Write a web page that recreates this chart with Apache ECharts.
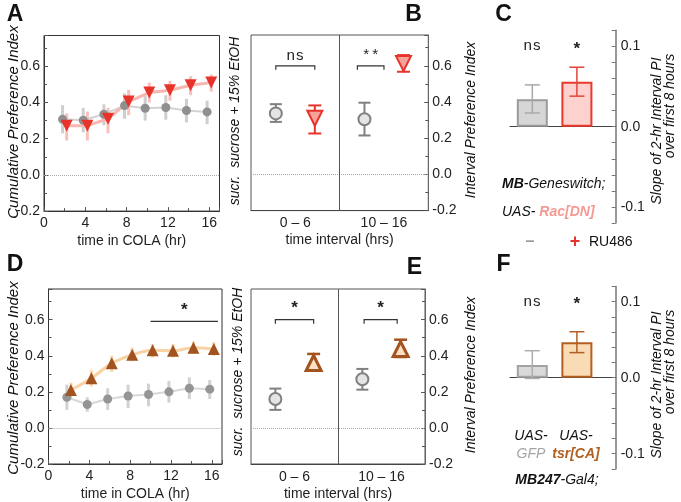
<!DOCTYPE html>
<html><head><meta charset="utf-8">
<script src="https://cdn.jsdelivr.net/npm/echarts@6/dist/echarts.min.js"></script>
<style>html,body{margin:0;padding:0;background:#fff}#c{width:681px;height:502px}</style>
</head><body><div id="c"></div>
<script>
// ---------- data ----------
const hours = [2, 4, 6, 8, 10, 12, 14, 16];
const hourTicks = [0, 4, 8, 12, 16];
const cumTicks = [-0.2, 0, 0.2, 0.4, 0.6];
const slopeTicks = [-0.1, 0, 0.1];
const intervalCats = ['0 – 6', '10 – 16'];

// Panel A (MB-Geneswitch > Rac[DN])
const aGreyMean = [0.307, 0.302, 0.335, 0.383, 0.368, 0.372, 0.356, 0.348];
const aGreyLo   = [0.230, 0.235, 0.275, 0.310, 0.300, 0.305, 0.290, 0.280];
const aGreyHi   = [0.385, 0.370, 0.390, 0.450, 0.435, 0.440, 0.420, 0.410];
const aRedMean  = [0.272, 0.272, 0.310, 0.405, 0.455, 0.468, 0.495, 0.510];
const aRedLo    = [0.190, 0.190, 0.230, 0.330, 0.400, 0.410, 0.440, 0.460];
const aRedHi    = [0.340, 0.350, 0.370, 0.470, 0.510, 0.520, 0.545, 0.555];

// Panel B
const bGreyMean = [0.337, 0.305];
const bGreyLo   = [0.290, 0.215];
const bGreyHi   = [0.388, 0.396];
const bRedMean  = [0.310, 0.613];
const bRedLo    = [0.226, 0.567];
const bRedHi    = [0.381, 0.659];
const bSigLabels = ['ns', '**'];
const bSigSpans  = [[0.28, 0.72], [1.2, 1.5]];
const sigLevel = 0.6;

// Panel C
const cMean = [0.034, 0.056];
const cLo   = [0.017, 0.038];
const cHi   = [0.052, 0.074];
const cSig  = ['ns', '*'];

// Panel D (MB247-Gal4 > tsr[CA])
const dGreyMean = [0.170, 0.130, 0.160, 0.177, 0.185, 0.200, 0.220, 0.215];
const dGreyLo   = [0.100, 0.090, 0.100, 0.110, 0.120, 0.140, 0.160, 0.160];
const dGreyHi   = [0.240, 0.170, 0.220, 0.240, 0.245, 0.260, 0.280, 0.265];
const dOrMean   = [0.210, 0.275, 0.358, 0.405, 0.430, 0.428, 0.445, 0.437];
const dOrLo     = [0.170, 0.230, 0.310, 0.370, 0.390, 0.390, 0.410, 0.400];
const dOrHi     = [0.250, 0.320, 0.400, 0.445, 0.465, 0.465, 0.480, 0.475];
const dSigSpan  = [10, 16.6];
const dSigLevel = 0.59;

// Panel E
const eGreyMean = [0.160, 0.270];
const eGreyLo   = [0.100, 0.212];
const eGreyHi   = [0.218, 0.327];
const eOrMean   = [0.360, 0.437];
const eOrLo     = [0.320, 0.393];
const eOrHi     = [0.410, 0.489];
const eSigLabels = ['*', '*'];
const eSigSpans  = [[0.28, 0.72], [1.3, 1.68]];

// Panel F
const fMean = [0.0167, 0.0466];
const fLo   = [-0.001, 0.033];
const fHi   = [0.0355, 0.0605];
const fSig  = ['ns', '*'];

// ---------- style ----------
const SANS = '"Liberation Sans", Arial, sans-serif';
const MONO = '"Liberation Mono", "Courier New", monospace';
const DODGE_T = 0.2;   // hours
const DODGE_G = 0.22;  // group offset
const groupCenters = [0.5, 1.5];
const barCenters = [0.5, 1.5];
const GREY = '#8f8f8f', RED = '#e8332b', BROWN = '#a3531f';

const near = (v, arr) => arr.some(t => Math.abs(t - v) < 1e-6);
const fmt1 = v => (Math.abs(v) < 1e-9 ? 0 : v).toFixed(1);

function cumYAxis(gi, right) {
  return {
    gridIndex: gi, type: 'value', min: -0.2, max: 0.77, interval: 0.2,
    position: right ? 'right' : 'left',
    axisLine: { show: true, onZero: false, lineStyle: { color: right ? '#666' : '#333' } },
    axisTick: { show: true, inside: true, length: 4, lineStyle: { color: '#555' } },
    minorTick: { show: true, splitNumber: 2, length: 3, lineStyle: { color: '#555' } },
    splitLine: { show: false },
    axisLabel: { color: '#222', fontSize: 14, fontFamily: SANS, margin: 4,
      formatter: v => near(v, cumTicks) ? fmt1(v) : '' }
  };
}
function hourXAxis(gi) {
  return {
    gridIndex: gi, type: 'value', min: 0, max: 17, interval: 4,
    axisLine: { show: true, onZero: false, lineStyle: { color: '#333' } },
    axisTick: { show: true, inside: true, length: 4, lineStyle: { color: '#555' } },
    minorTick: { show: true, splitNumber: 2, length: 3, lineStyle: { color: '#555' } },
    splitLine: { show: false },
    axisLabel: { color: '#222', fontSize: 14, fontFamily: SANS, margin: 5,
      formatter: v => near(v, hourTicks) ? String(v) : '' },
    name: 'time in COLA (hr)', nameLocation: 'middle', nameGap: 23,
    nameTextStyle: { color: '#222', fontSize: 14, fontFamily: SANS }
  };
}
function intervalXAxis(gi) {
  return {
    gridIndex: gi, type: 'value', min: 0, max: 2, interval: 0.5,
    axisLine: { show: true, onZero: false, lineStyle: { color: '#444' } },
    axisTick: { show: false }, splitLine: { show: false },
    axisLabel: { color: '#222', fontSize: 14, fontFamily: SANS, margin: 6,
      formatter: v => { const i = groupCenters.findIndex(c => Math.abs(c - v) < 1e-6); return i >= 0 ? intervalCats[i] : ''; } },
    name: 'time interval (hrs)', nameLocation: 'middle', nameGap: 23,
    nameTextStyle: { color: '#222', fontSize: 14, fontFamily: SANS }
  };
}
function slopeXAxis(gi) {
  return {
    gridIndex: gi, type: 'value', min: 0, max: 2.37,
    axisLine: { show: true, onZero: true, lineStyle: { color: '#444' } },
    axisTick: { show: false }, axisLabel: { show: false }, splitLine: { show: false }
  };
}
function slopeYAxis(gi) {
  return {
    gridIndex: gi, type: 'value', min: -0.12, max: 0.12, interval: 0.02, position: 'right',
    axisLine: { show: true, onZero: false, lineStyle: { color: '#777', width: 1.5 } },
    axisTick: { show: true, inside: true, length: 4, lineStyle: { color: '#777' } },
    splitLine: { show: false },
    axisLabel: { color: '#222', fontSize: 14, fontFamily: SANS, margin: 5,
      formatter: v => near(v, slopeTicks) ? fmt1(v) : '' }
  };
}

function errSeries(gi, xs, lo, hi, color, width, cap, z) {
  const colors = Array.isArray(color) ? color : xs.map(() => color);
  return {
    type: 'custom', xAxisIndex: gi, yAxisIndex: gi, z: z || 2, silent: true,
    data: xs.map((x, i) => [x, lo[i], hi[i]]),
    encode: { x: 0, y: [1, 2] },
    renderItem: (p, api) => {
      const c = colors[p.dataIndex];
      const a = api.coord([api.value(0), api.value(1)]);
      const b = api.coord([api.value(0), api.value(2)]);
      const st = { stroke: c, lineWidth: width, fill: null };
      const ch = [{ type: 'line', shape: { x1: a[0], y1: a[1], x2: b[0], y2: b[1] }, style: st }];
      if (cap) {
        ch.push({ type: 'line', shape: { x1: a[0] - cap / 2, y1: a[1], x2: a[0] + cap / 2, y2: a[1] }, style: st });
        ch.push({ type: 'line', shape: { x1: b[0] - cap / 2, y1: b[1], x2: b[0] + cap / 2, y2: b[1] }, style: st });
      }
      return { type: 'group', children: ch };
    }
  };
}
function sigSeries(gi, spans, level, labels, tick, font) {
  return {
    type: 'custom', xAxisIndex: gi, yAxisIndex: gi, z: 5, silent: true,
    data: spans.map(s => [s[0], s[1], level]),
    encode: { x: [0, 1], y: 2 },
    renderItem: (p, api) => {
      const a = api.coord([api.value(0), api.value(2)]);
      const b = api.coord([api.value(1), api.value(2)]);
      return { type: 'group', children: [
        { type: 'polyline', shape: { points: [[a[0], a[1] + tick], [a[0], a[1]], [b[0], b[1]], [b[0], b[1] + tick]] },
          style: { stroke: '#333', lineWidth: 1.2, fill: null } },
        { type: 'text', x: (a[0] + b[0]) / 2, y: a[1] - 2,
          style: { text: labels[p.dataIndex], textAlign: 'center', textVerticalAlign: 'bottom', align: 'center', verticalAlign: 'bottom', font: font, fill: '#222' } }
      ] };
    }
  };
}
function barSigSeries(gi, labels) {
  return {
    type: 'custom', xAxisIndex: gi, yAxisIndex: gi, z: 5, silent: true,
    data: barCenters.map(x => [x, 0.1]),
    encode: { x: 0, y: 1 },
    renderItem: (p, api) => {
      const a = api.coord([api.value(0), api.value(1)]);
      const lab = labels[p.dataIndex];
      return { type: 'text', x: a[0], y: a[1] + (lab === '*' ? 3 : 0),
        style: { text: lab, textAlign: 'center', textVerticalAlign: 'middle', align: 'center', verticalAlign: 'middle',
          font: (lab === '*' ? 'bold 17px ' : '15px ') + MONO, fill: '#222' } };
    }
  };
}
const zeroLine = (extra) => ({
  silent: true, symbol: 'none', label: { show: false },
  data: [{ yAxis: 0, lineStyle: { type: 'dotted', color: '#aaa', width: 1 } }].concat(extra || [])
});
const midLine = { xAxis: 1, lineStyle: { type: 'solid', color: '#555', width: 1 } };

function timeLine(gi, xs, mean, sym, rot, size, color, lineColor, lineW, smooth, mark) {
  return {
    type: 'line', xAxisIndex: gi, yAxisIndex: gi, z: 3, silent: true, smooth: smooth || false,
    data: xs.map((x, i) => [x, mean[i]]),
    symbol: sym, symbolRotate: rot, symbolSize: size, showAllSymbol: true,
    itemStyle: { color: color }, lineStyle: { color: lineColor, width: lineW },
    markLine: mark
  };
}
function pointSeries(gi, xs, mean, sym, rot, size, fill, stroke, bw) {
  return {
    type: 'scatter', xAxisIndex: gi, yAxisIndex: gi, z: 4, silent: true,
    data: xs.map((x, i) => [x, mean[i]]),
    symbol: sym, symbolRotate: rot, symbolSize: size,
    itemStyle: { color: fill, borderColor: stroke, borderWidth: bw, opacity: 1 }
  };
}
function barSeries(gi, mean, fills, strokes) {
  return {
    type: 'bar', xAxisIndex: gi, yAxisIndex: gi, barWidth: 31, z: 2, silent: true,
    data: barCenters.map((x, i) => ({ value: [x, mean[i]], itemStyle: { color: fills[i], borderColor: strokes[i], borderWidth: 2 } }))
  };
}

const hG = hours.map(h => h - DODGE_T), hR = hours.map(h => h + DODGE_T);
const gG = groupCenters.map(c => c - DODGE_G), gR = groupCenters.map(c => c + DODGE_G);

const gridBox = { show: true, borderColor: '#333', borderWidth: 1, backgroundColor: 'transparent' };

function txt(x, y, text, font, fill, opts) {
  return Object.assign({ type: 'text', x: x, y: y, silent: true,
    style: Object.assign({ text: text, font: font, fill: fill || '#111', textAlign: 'center', textVerticalAlign: 'middle', align: 'center', verticalAlign: 'middle' }, (opts && opts.style) || {}) },
    opts && opts.rot ? { rotation: Math.PI / 2 } : {});
}
const IT14 = 'italic 14px ' + SANS;
const LETTER = 'bold 23px ' + SANS;

const option = {
  animation: false,
  backgroundColor: '#fff',
  grid: [
    Object.assign({ left: 44, top: 35.5, width: 175.5, height: 175.6 }, gridBox),
    Object.assign({ left: 251, top: 35, width: 177.3, height: 175.6 }, gridBox, { borderColor: '#555' }),
    { left: 510, top: 30.3, width: 105.7, height: 192.7 },
    Object.assign({ left: 48.5, top: 289, width: 173.5, height: 175.6 }, gridBox),
    Object.assign({ left: 251, top: 289, width: 174, height: 175.6 }, gridBox, { borderColor: '#555' }),
    { left: 510, top: 286.5, width: 105.7, height: 182.4 }
  ],
  xAxis: [hourXAxis(0), intervalXAxis(1), slopeXAxis(2), hourXAxis(3), intervalXAxis(4), slopeXAxis(5)],
  yAxis: [cumYAxis(0, false), cumYAxis(1, true), slopeYAxis(2), cumYAxis(3, false), cumYAxis(4, true), slopeYAxis(5)],
  series: [
    // A
    errSeries(0, hG, aGreyLo, aGreyHi, 'rgba(185,185,185,0.7)', 3, 0),
    errSeries(0, hR, aRedLo, aRedHi, 'rgba(247,170,165,0.75)', 3, 0),
    timeLine(0, hG, aGreyMean, 'circle', 0, 9, GREY, '#d3d3d3', 2, false, zeroLine()),
    timeLine(0, hR, aRedMean, 'triangle', 180, 12, RED, '#f7b7b0', 3, false),
    // B
    errSeries(1, gG, bGreyLo, bGreyHi, '#808080', 2, 12),
    errSeries(1, gR, bRedLo, bRedHi, RED, 2, 13),
    Object.assign(pointSeries(1, gG, bGreyMean, 'circle', 0, 12, '#e4e4e4', '#808080', 2), { markLine: zeroLine([midLine]) }),
    pointSeries(1, gR, bRedMean, 'triangle', 180, 15, '#f6a39c', RED, 2),
    sigSeries(1, bSigSpans, sigLevel, bSigLabels, 4, '15px ' + MONO),
    // C
    barSeries(2, cMean, ['#d6d6d6', '#fdd2ce'], ['#9b9b9b', '#e8392f']),
    errSeries(2, barCenters, cLo, cHi, ['#a8a8a8', '#e2453b'], 1.5, 15, 3),
    barSigSeries(2, cSig),
    // D
    errSeries(3, hG, dGreyLo, dGreyHi, 'rgba(190,190,190,0.7)', 3, 0),
    errSeries(3, hR, dOrLo, dOrHi, 'rgba(248,205,150,0.8)', 3, 0),
    timeLine(3, hG, dGreyMean, 'circle', 0, 9, '#959595', '#d8d8d8', 2, false, zeroLine()),
    timeLine(3, hR, dOrMean, 'triangle', 0, 12, BROWN, '#f8d2a2', 3, 0.35),
    sigSeries(3, [dSigSpan], dSigLevel, ['*'], 0, 'bold 17px ' + MONO),
    // E
    errSeries(4, gG, eGreyLo, eGreyHi, '#808080', 2, 12),
    errSeries(4, gR, eOrLo, eOrHi, BROWN, 2.5, 13),
    Object.assign(pointSeries(4, gG, eGreyMean, 'circle', 0, 12, '#e4e4e4', '#808080', 2), { markLine: zeroLine([midLine]) }),
    pointSeries(4, gR, eOrMean, 'triangle', 0, 15, '#fbe1c2', BROWN, 3),
    sigSeries(4, eSigSpans, sigLevel, eSigLabels, 4, 'bold 17px ' + MONO),
    // F
    barSeries(5, fMean, ['#d9d9d9', '#f9dcb6'], ['#a3a3a3', '#b35f22']),
    errSeries(5, barCenters, fLo, fHi, ['#adadad', '#b35f22'], 1.5, 15, 3),
    barSigSeries(5, fSig)
  ],
  graphic: [
    txt(15, 15, 'A', LETTER), txt(413.5, 15, 'B', LETTER), txt(503.5, 15, 'C', LETTER),
    txt(15, 265, 'D', LETTER), txt(414.5, 268, 'E', LETTER), txt(503.5, 265, 'F', LETTER),
    txt(14, 122, 'Cumulative Preference Index', 'italic 15px ' + SANS, '#111', { rot: true }),
    txt(14, 378, 'Cumulative Preference Index', 'italic 15px ' + SANS, '#111', { rot: true }),
    txt(235, 121, 'sucr.  sucrose + 15% EtOH', IT14, '#111', { rot: true }),
    txt(238, 372, 'sucr.  sucrose + 15% EtOH', IT14, '#111', { rot: true }),
    txt(471.5, 120, 'Interval Preference Index', IT14, '#111', { rot: true }),
    txt(471.5, 375, 'Interval Preference Index', IT14, '#111', { rot: true }),
    txt(657, 131, 'Slope of 2-hr Interval PI', IT14, '#111', { rot: true }),
    txt(670, 106, 'over first 8 hours', IT14, '#111', { rot: true }),
    txt(657, 385, 'Slope of 2-hr Interval PI', IT14, '#111', { rot: true }),
    txt(670, 362, 'over first 8 hours', IT14, '#111', { rot: true }),
    // C genotype
    { type: 'text', x: 502, y: 184, silent: true, style: { text: '{b|MB}{i|-Geneswitch;}', textVerticalAlign: 'middle', verticalAlign: 'middle',
      rich: { b: { font: 'italic bold 14px ' + SANS, fill: '#111' }, i: { font: IT14, fill: '#111' } } } },
    { type: 'text', x: 502, y: 212, silent: true, style: { text: '{i|UAS- }{r|Rac[DN]}', textVerticalAlign: 'middle', verticalAlign: 'middle',
      rich: { r: { font: 'italic bold 14px ' + SANS, fill: '#f49a94' }, i: { font: IT14, fill: '#111' } } } },
    txt(530, 242, '–', 'bold 16px ' + SANS, '#999'),
    txt(575, 242, '+', 'bold 18px ' + SANS, RED),
    { type: 'text', x: 589, y: 242, silent: true, style: { text: 'RU486', font: '14px ' + SANS, fill: '#111', textVerticalAlign: 'middle', verticalAlign: 'middle' } },
    // F genotype
    txt(531, 436, 'UAS-', IT14, '#111'), txt(576, 436, 'UAS-', IT14, '#111'),
    txt(531, 454, 'GFP', IT14, '#a5a5a5'), txt(576, 454, 'tsr[CA]', 'italic bold 14px ' + SANS, '#b3601f'),
    { type: 'text', x: 557, y: 480, silent: true, style: { text: '{b|MB247}{i|-Gal4;}', textAlign: 'center', align: 'center', textVerticalAlign: 'middle', verticalAlign: 'middle',
      rich: { b: { font: 'italic bold 14px ' + SANS, fill: '#111' }, i: { font: IT14, fill: '#111' } } } }
  ]
};
const chart = echarts.init(document.getElementById('c'), null, { renderer: 'canvas' });
chart.setOption(option);
</script>
</body></html>
